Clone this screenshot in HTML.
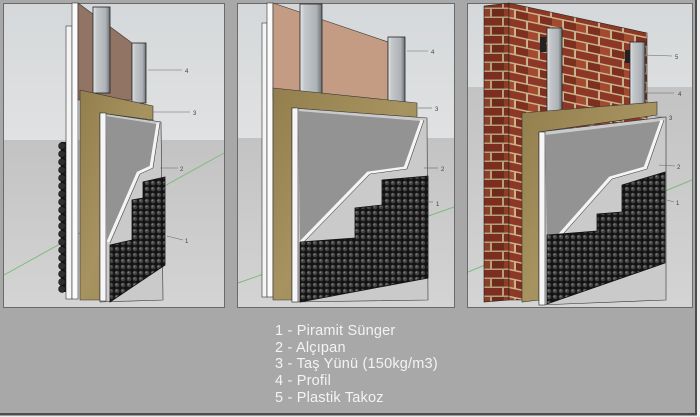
<!DOCTYPE html>
<html><head><meta charset="utf-8"><style>
html,body{margin:0;padding:0;background:#ececec;}
svg{display:block}
</style></head><body>
<svg width="700" height="417" viewBox="0 0 700 417" xmlns="http://www.w3.org/2000/svg">
<defs>
 <linearGradient id="sky" x1="0" y1="0" x2="0" y2="1">
  <stop offset="0" stop-color="#d5d8da"/><stop offset="1" stop-color="#ededed"/>
 </linearGradient>
 <linearGradient id="gnd" x1="0" y1="0" x2="0" y2="1">
  <stop offset="0" stop-color="#c3c3c3"/><stop offset="1" stop-color="#d4d4d4"/>
 </linearGradient>
 <linearGradient id="stud" x1="0" y1="0" x2="1" y2="0">
  <stop offset="0" stop-color="#e6e9eb"/><stop offset="0.2" stop-color="#c4c8cb"/><stop offset="0.75" stop-color="#adb2b6"/><stop offset="1" stop-color="#6a6e72"/>
 </linearGradient>
 <linearGradient id="wool" x1="0" y1="0" x2="1" y2="1">
  <stop offset="0" stop-color="#927f4d"/><stop offset="0.5" stop-color="#a69360"/><stop offset="1" stop-color="#998654"/>
 </linearGradient>
 <pattern id="foam" width="6" height="6" patternUnits="userSpaceOnUse">
  <rect width="6" height="6" fill="#131313"/>
  <circle cx="3" cy="3" r="2.3" fill="#434343"/>
  <circle cx="2.4" cy="2.4" r="1" fill="#7a7a7a"/>
 </pattern>
 <pattern id="brick" width="24" height="18" patternUnits="userSpaceOnUse" patternTransform="skewY(12)">
  <rect width="24" height="18" fill="#c9b48c"/>
  <rect x="0" y="0" width="22" height="7.5" fill="#8d3826"/>
  <rect x="-12" y="9" width="22" height="7.5" fill="#a2492f"/>
  <rect x="12" y="9" width="22" height="7.5" fill="#7e3020"/>
 </pattern>
 <pattern id="brick2" width="24" height="18" patternUnits="userSpaceOnUse">
  <rect width="24" height="18" fill="#c4ae86"/>
  <rect x="0" y="0" width="22" height="7.5" fill="#873424"/>
  <rect x="-12" y="9" width="22" height="7.5" fill="#9a442c"/>
  <rect x="12" y="9" width="22" height="7.5" fill="#7a2e1f"/>
 </pattern>
</defs>

<!-- outer frame -->
<rect width="700" height="417" fill="#ececec"/>
<rect x="0" y="0" width="697" height="415.5" fill="#4c4c4c"/>
<rect x="0" y="0" width="695" height="413" fill="#a8a8a8"/>

<!-- ============ PANEL 1 ============ -->
<rect x="3.5" y="3.5" width="221" height="304" fill="url(#sky)"/>
<rect x="4" y="140" width="220" height="167.5" fill="url(#gnd)"/>
<rect x="3.5" y="3.5" width="221" height="304" fill="none" stroke="#6a6a6a"/>
<line x1="4" y1="275" x2="224" y2="153" stroke="#7dbb7d" stroke-width="1"/>
<rect x="61" y="142" width="7" height="150" fill="#1a1a1a"/>
<g fill="#2e2e2e" stroke="#0e0e0e" stroke-width="0.6">
 <circle cx="62" cy="146" r="3.4"/><circle cx="62" cy="154" r="3.4"/><circle cx="62" cy="162" r="3.4"/><circle cx="62" cy="170" r="3.4"/>
 <circle cx="62" cy="178" r="3.4"/><circle cx="62" cy="186" r="3.4"/><circle cx="62" cy="194" r="3.4"/><circle cx="62" cy="202" r="3.4"/>
 <circle cx="62" cy="210" r="3.4"/><circle cx="62" cy="218" r="3.4"/><circle cx="62" cy="226" r="3.4"/><circle cx="62" cy="234" r="3.4"/>
 <circle cx="62" cy="242" r="3.4"/><circle cx="62" cy="250" r="3.4"/><circle cx="62" cy="258" r="3.4"/><circle cx="62" cy="266" r="3.4"/>
 <circle cx="62" cy="274" r="3.4"/><circle cx="62" cy="282" r="3.4"/><circle cx="62" cy="289" r="3.4"/>
</g>
<rect x="66" y="26" width="6" height="273" fill="#f4f4f4" stroke="#333" stroke-width="0.6"/>
<rect x="72" y="3" width="6" height="296" fill="#fbfbfb" stroke="#333" stroke-width="0.6"/>
<polygon points="78,3 132,43 132,100 78,100" fill="#927464" stroke="#333" stroke-width="0.6"/>
<rect x="93" y="7" width="17" height="86" fill="url(#stud)" stroke="#222" stroke-width="0.8"/>
<rect x="132" y="43" width="14" height="60" fill="url(#stud)" stroke="#222" stroke-width="0.8"/>
<polygon points="80,90 153,106 153,120 100,113 100,300 80,300" fill="url(#wool)" stroke="#333" stroke-width="0.6"/>
<polygon points="100,113 161,122 163,300 100,302" fill="#cacaca" stroke="#333" stroke-width="0.6"/>
<rect x="100" y="113" width="6" height="188" fill="#f6f6f6" stroke="#333" stroke-width="0.6"/>
<polygon points="106,116 157,124 150,167 137,173 107,242" fill="#939393"/>
<polyline points="158,123 151,167 138,173 108,242" fill="none" stroke="#f4f4f4" stroke-width="3"/>
<polyline points="160,123 153,168 140,174 110,243" fill="none" stroke="#333" stroke-width="0.5"/>
<polygon points="110,245 132,240 132,200 143,198 143,182 165,177 165,265 110,302" fill="url(#foam)" stroke="#111" stroke-width="0.8"/>
<g stroke="#666" stroke-width="0.6">
 <line x1="148" y1="70" x2="182" y2="70"/><line x1="153" y1="112" x2="190" y2="112"/>
 <line x1="160" y1="168" x2="178" y2="168"/><line x1="167" y1="236" x2="183" y2="240"/>
</g>
<g font-family="'Liberation Sans', sans-serif" font-size="6" fill="#444">
 <text x="185" y="73">4</text><text x="193" y="115">3</text><text x="180" y="171">2</text><text x="185" y="243">1</text>
</g>

<!-- ============ PANEL 2 ============ -->
<rect x="237.5" y="3.5" width="217" height="304" fill="url(#sky)"/>
<rect x="238" y="138" width="216" height="169.5" fill="url(#gnd)"/>
<rect x="237.5" y="3.5" width="217" height="304" fill="none" stroke="#6a6a6a"/>
<line x1="238" y1="283" x2="454" y2="207" stroke="#7dbb7d" stroke-width="1"/>
<rect x="262" y="23" width="5" height="274" fill="#f4f4f4" stroke="#333" stroke-width="0.6"/>
<rect x="267" y="3" width="6" height="294" fill="#fbfbfb" stroke="#333" stroke-width="0.6"/>
<polygon points="273,3 388,42 388,100 273,100" fill="#c49c84" stroke="#333" stroke-width="0.6"/>
<rect x="300" y="4" width="22" height="108" fill="url(#stud)" stroke="#222" stroke-width="0.8"/>
<rect x="388" y="37" width="17" height="80" fill="url(#stud)" stroke="#222" stroke-width="0.8"/>
<polygon points="273,88 417,103 417,118 292,108 292,300 273,300" fill="url(#wool)" stroke="#333" stroke-width="0.6"/>
<polygon points="292,108 427,118 428,300 292,302" fill="#cacaca" stroke="#333" stroke-width="0.6"/>
<rect x="292" y="108" width="6" height="194" fill="#f6f6f6" stroke="#333" stroke-width="0.6"/>
<polygon points="298,111 421,121 404,168 367,173 300,242" fill="#939393"/>
<polyline points="422,120 405,168 368,173 300,243" fill="none" stroke="#f4f4f4" stroke-width="3"/>
<polyline points="424,120 407,169 370,174 302,244" fill="none" stroke="#333" stroke-width="0.5"/>
<polygon points="300,242 355,238 355,208 382,205 382,180 428,176 428,278 300,302" fill="url(#foam)" stroke="#111" stroke-width="0.8"/>
<g stroke="#666" stroke-width="0.6">
 <line x1="407" y1="51" x2="428" y2="51"/><line x1="418" y1="108" x2="432" y2="108"/>
 <line x1="424" y1="168" x2="438" y2="168"/><line x1="428" y1="202" x2="433" y2="202"/>
</g>
<g font-family="'Liberation Sans', sans-serif" font-size="6" fill="#444">
 <text x="431" y="54">4</text><text x="435" y="111">3</text><text x="441" y="171">2</text><text x="436" y="206">1</text>
</g>

<!-- ============ PANEL 3 ============ -->
<rect x="467.5" y="3.5" width="225" height="304" fill="url(#sky)"/>
<rect x="468" y="87" width="224" height="220.5" fill="url(#gnd)"/>
<rect x="467.5" y="3.5" width="225" height="304" fill="none" stroke="#6a6a6a"/>
<line x1="468" y1="272" x2="692" y2="180" stroke="#7dbb7d" stroke-width="1"/>
<polygon points="484,6 509,3 509,300 484,302" fill="url(#brick2)" stroke="#222" stroke-width="0.6"/>
<polygon points="484,6 509,3 509,300 484,302" fill="#000" opacity="0.08"/>
<polygon points="509,3 647,33 647,300 509,300" fill="url(#brick)" stroke="#222" stroke-width="0.6"/>
<rect x="547" y="28" width="15" height="102" fill="url(#stud)" stroke="#222" stroke-width="0.8"/>
<rect x="630" y="42" width="15" height="70" fill="url(#stud)" stroke="#222" stroke-width="0.8"/>
<rect x="540" y="37" width="6" height="15" fill="#222"/>
<rect x="625" y="50" width="5" height="13" fill="#222"/>
<polygon points="522,113 657,102 657,115 539,132 539,300 522,302" fill="url(#wool)" stroke="#333" stroke-width="0.6"/>
<polygon points="539,132 666,117 666,300 539,305" fill="#cacaca" stroke="#333" stroke-width="0.6"/>
<rect x="539" y="132" width="6" height="173" fill="#f6f6f6" stroke="#333" stroke-width="0.6"/>
<polygon points="545,135 661,121 644,168 609,178 547,248" fill="#939393"/>
<polyline points="662,120 645,168 610,178 547,249" fill="none" stroke="#f4f4f4" stroke-width="3"/>
<polyline points="664,120 647,169 612,179 549,250" fill="none" stroke="#333" stroke-width="0.5"/>
<polygon points="547,235 597,231 597,214 622,212 622,185 665,172 665,263 547,304" fill="url(#foam)" stroke="#111" stroke-width="0.8"/>
<g stroke="#666" stroke-width="0.6">
 <line x1="644" y1="55" x2="672" y2="56"/><line x1="644" y1="93" x2="674" y2="93"/>
 <line x1="655" y1="117" x2="666" y2="117"/><line x1="659" y1="165" x2="675" y2="166"/>
 <line x1="667" y1="200" x2="674" y2="202"/>
</g>
<g font-family="'Liberation Sans', sans-serif" font-size="6" fill="#444">
 <text x="675" y="59">5</text><text x="678" y="96">4</text><text x="669" y="120">3</text><text x="677" y="169">2</text><text x="676" y="205">1</text>
</g>

<!-- legend -->
<g font-family="'Liberation Sans', sans-serif" font-size="14.5" fill="#f3f3f3" letter-spacing="0.2">
 <text x="275" y="335">1 - Piramit Sünger</text>
 <text x="275" y="352">2 - Alçıpan</text>
 <text x="275" y="368">3 - Taş Yünü (150kg/m3)</text>
 <text x="275" y="385">4 - Profil</text>
 <text x="275" y="402">5 - Plastik Takoz</text>
</g>
</svg>
</body></html>
